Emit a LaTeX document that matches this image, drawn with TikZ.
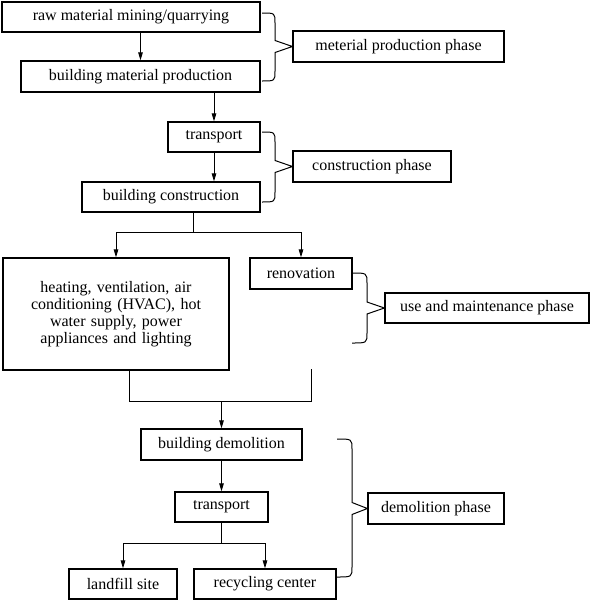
\documentclass[tikz,border=0pt]{standalone}
\usepackage{fontspec}
\setmainfont{Liberation Serif}
\usetikzlibrary{arrows.meta,calc}
\newcommand\phasebrace[6]{%
  % #1 x0, #2 xv, #3 ytop, #4 ybot, #5 ymid, #6 tip node
  \draw[brc] (#1,#3) .. controls (#2,#3) .. (#2,#3+10)
    -- (#2,#5-6) -- (#6.west) -- (#2,#5+6)
    -- (#2,#4-10) .. controls (#2,#4) .. (#1,#4);}
\begin{document}
\begin{tikzpicture}[x=1pt,y=-1pt,
  box/.style={draw, line width=1.2pt, inner sep=0pt, align=center,
    font=\fontsize{16}{17.2}\selectfont},
  arr/.style={line width=0.9pt, -{Triangle[length=8pt,width=4.5pt]}},
  ln/.style={line width=0.9pt},
  brc/.style={line width=1pt, line join=miter}]
\useasboundingbox (0,0) rectangle (590,600);
% process boxes
\node[box, line width=1.9pt, minimum width=258pt, minimum height=30pt] (raw) at (131,17) {raw material mining/quarrying};
\node[box, minimum width=239pt, minimum height=31pt] (bmp) at (140.5,76.5) {building material production};
\node[box, minimum width=92pt, minimum height=30pt] (tr1) at (214,137) {transport};
\node[box, minimum width=178pt, minimum height=30pt] (bc) at (171,197) {building construction};
\node[box, minimum width=226pt, minimum height=112pt, text width=210pt] (hvac) at (116,314) {heating, ventilation, air\\conditioning (HVAC), hot\\water supply, power\\appliances and lighting};
\node[box, minimum width=102pt, minimum height=31pt] (ren) at (301,273.5) {renovation};
\node[box, minimum width=161pt, minimum height=31pt] (bd) at (221.5,444.5) {building demolition};
\node[box, minimum width=93pt, minimum height=30pt] (tr2) at (221.5,507) {transport};
\node[box, minimum width=108pt, minimum height=30pt] (lf) at (123,584) {landfill site};
\node[box, minimum width=142pt, minimum height=30pt] (rc) at (265,584) {recycling center};
% phase boxes
\node[box, minimum width=211pt, minimum height=31pt] (mpp) at (398.5,46.5) {meterial production phase};
\node[box, minimum width=158pt, minimum height=31pt] (cp) at (372,166.5) {construction phase};
\node[box, minimum width=204pt, minimum height=30pt] (ump) at (487,308) {use and maintenance phase};
\node[box, minimum width=136pt, minimum height=31pt] (dp) at (436,508.5) {demolition phase};
% connectors
\draw[arr] (raw.south -| bmp.north) -- (bmp.north);
\draw[arr] (bmp.south -| tr1.north) -- (tr1.north);
\draw[arr] (tr1.south) -- (tr1.south |- bc.north);
\coordinate (s1) at (193,232);
\draw[ln] (bc.south -| s1) -- (s1);
\draw[arr] (s1) -| (hvac.north);
\draw[arr] (s1) -| (ren.north);
\coordinate (m1) at (129,401);
\coordinate (m2) at (311,401);
\coordinate (m2top) at (311,369);
\draw[ln] (hvac.south -| m1) -- (m1) -- (m2) -- (m2top);
\draw[arr] (m1 -| bd.north) -- (bd.north);
\draw[arr] (bd.south) -- (tr2.north);
\coordinate (s2) at (221.5,543);
\draw[ln] (tr2.south) -- (s2);
\draw[arr] (s2) -| (lf.north);
\draw[arr] (s2) -| (rc.north);
% braces
\phasebrace{262}{275}{13}{81}{46.5}{mpp}
\phasebrace{262}{275}{132}{202}{166.5}{cp}
\phasebrace{352}{367}{273}{343}{308}{ump}
\phasebrace{337}{352}{439}{577}{508.5}{dp}
\end{tikzpicture}
\end{document}
